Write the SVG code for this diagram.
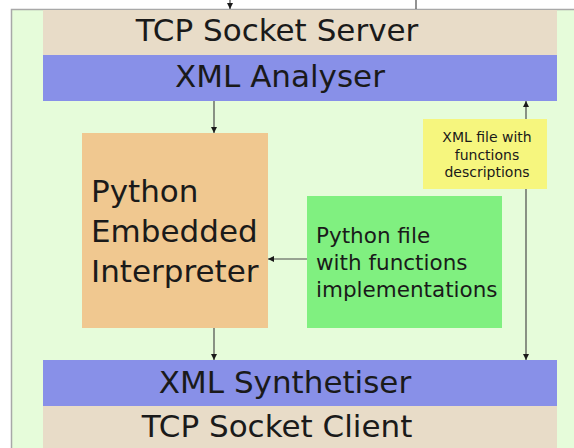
<svg xmlns="http://www.w3.org/2000/svg" width="574" height="448" viewBox="0 0 574 448">
<style>
text{font-family:"DejaVu Sans","Liberation Sans",sans-serif;fill:#1a1a1a}
.big{font-size:31px}
.mid{font-size:21.5px}
.sm{font-size:14px}
.ln{stroke:#4a4a4a;stroke-width:1.2;fill:none}
.beige{fill:#e8dcc8}
.blue{fill:#8890e8}
</style>
<defs>
<marker id="ah" viewBox="0 0 10 10" refX="10" refY="5" markerWidth="6" markerHeight="8" markerUnits="userSpaceOnUse" orient="auto">
<path d="M0,0 L10,5 L0,10 z" fill="#1a1a1a"/>
</marker>
</defs>
<rect x="0" y="0" width="574" height="448" fill="#ffffff"/>
<g id="container">
<rect x="11.5" y="9.5" width="580" height="450" fill="#e6fcda" stroke="#a8a8a8" stroke-width="1.5"/>
</g>
<g id="tcp-server">
<rect class="beige" x="43" y="10" width="514" height="45"/>
<text class="big" x="277" y="41" text-anchor="middle">TCP Socket Server</text>
</g>
<g id="xml-analyser">
<rect class="blue" x="43" y="55" width="514" height="46"/>
<text class="big" x="280" y="87" text-anchor="middle">XML Analyser</text>
</g>
<g id="python-interpreter">
<rect x="82" y="133" width="186" height="195" fill="#f0c890"/>
<text class="big" x="91" y="202">Python</text>
<text class="big" x="91" y="242">Embedded</text>
<text class="big" x="91" y="282">Interpreter</text>
</g>
<g id="xml-file">
<rect x="423" y="119" width="124" height="70" fill="#f6f67e"/>
<text class="sm" x="487" y="142" text-anchor="middle">XML file with</text>
<text class="sm" x="487" y="159.5" text-anchor="middle">functions</text>
<text class="sm" x="487" y="177" text-anchor="middle">descriptions</text>
</g>
<g id="python-file">
<rect x="307" y="196" width="195" height="132" fill="#80f080"/>
<text class="mid" x="316" y="243">Python file</text>
<text class="mid" x="316" y="270">with functions</text>
<text class="mid" x="316" y="297">implementations</text>
</g>
<g id="xml-synthetiser">
<rect class="blue" x="43" y="360" width="514" height="46"/>
<text class="big" x="285" y="393" text-anchor="middle">XML Synthetiser</text>
</g>
<g id="tcp-client">
<rect class="beige" x="43" y="406" width="514" height="50"/>
<text class="big" x="277" y="437" text-anchor="middle">TCP Socket Client</text>
</g>
<g id="connectors">
<line class="ln" x1="230" y1="0" x2="230" y2="9" marker-end="url(#ah)"/>
<line class="ln" x1="416" y1="0" x2="416" y2="9"/>
<line class="ln" x1="214" y1="101" x2="214" y2="133" marker-end="url(#ah)"/>
<line class="ln" x1="214" y1="328" x2="214" y2="360" marker-end="url(#ah)"/>
<line class="ln" x1="307" y1="259" x2="268" y2="259" marker-end="url(#ah)"/>
<line class="ln" x1="526" y1="119" x2="526" y2="101" marker-end="url(#ah)"/>
<line class="ln" x1="526" y1="189" x2="526" y2="360" marker-end="url(#ah)"/>
</g>
</svg>
